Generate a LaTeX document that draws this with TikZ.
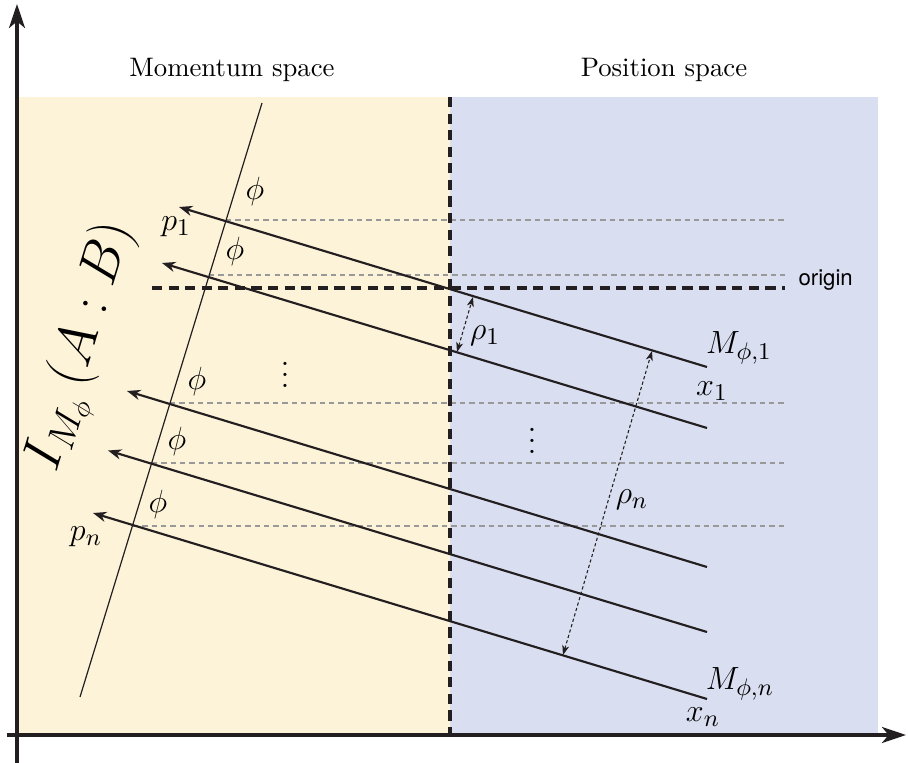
\documentclass[tikz,border=0pt]{standalone}
\usepackage{fontspec}
\newfontfamily\heros{TeX Gyre Heros}
\usetikzlibrary{arrows.meta}
\definecolor{momcol}{RGB}{253,243,217}
\definecolor{poscol}{RGB}{217,222,241}
\definecolor{ink}{RGB}{35,31,32}
\begin{document}
\begin{tikzpicture}[x=0.374pt,y=-0.374pt,
  axis/.style={line width=1.2pt,draw=ink,-{Stealth[length=9pt,width=6pt,inset=2.5pt]}},
  ray/.style={line width=0.8pt,draw=ink,-{Stealth[length=5pt,width=3.8pt,inset=1.6pt]}},
  guide/.style={draw=gray!80,line width=0.4pt,dash pattern=on 2pt off 1.5pt},
  bigdash/.style={draw=ink,line width=1.2pt,dash pattern=on 3.8pt off 2.4pt},
  dist/.style={draw=ink,line width=0.4pt,dash pattern=on 1.2pt off 0.9pt,{Stealth[length=3.6pt,width=2.6pt,inset=1pt]}-{Stealth[length=3.6pt,width=2.6pt,inset=1pt]}},
  lab/.style={inner sep=0pt,font=\fontsize{12.3}{14}\selectfont},
  txt/.style={inner sep=0pt,font=\fontsize{10}{12}\selectfont}]
\useasboundingbox (0,0) rectangle (908,763);
% regions
\fill[momcol] (18,97) rectangle (450,735);
\fill[poscol] (450,97) rectangle (878,735);
% guide lines
\coordinate (g1a) at (226,220); \coordinate (g1b) at (785,220);
\coordinate (g2a) at (209,275); \coordinate (g2b) at (785,275);
\coordinate (g3a) at (170,403); \coordinate (g3b) at (785,403);
\coordinate (g4a) at (152,463); \coordinate (g4b) at (785,463);
\coordinate (g5a) at (133,526); \coordinate (g5b) at (785,526);
\foreach \i in {1,...,5}{\draw[guide] (g\i a) -- (g\i b);}
% oblique line
\coordinate (oTop) at (262,103); \coordinate (oBot) at (80,697);
\draw[ink,line width=0.45pt] (oBot) -- (oTop);
% dashed axes
\coordinate (vdTop) at (450,97); \coordinate (vdBot) at (450,735);
\draw[bigdash] (vdTop) -- (vdBot);
\coordinate (hdL) at (152,288); \coordinate (hdR) at (785,288);
\draw[bigdash] (hdL) -- (hdR);
\node[inner sep=0pt,anchor=west,font=\heros\fontsize{8.3}{10}\selectfont] (origin) at (798,280) {origin};
% rays
\coordinate (r1) at (707,367); \coordinate (l1) at (179,207);
\coordinate (r2) at (707,428); \coordinate (l2) at (162,263);
\coordinate (r3) at (707,567); \coordinate (l3) at (127,391);
\coordinate (r4) at (707,632); \coordinate (l4) at (108,450.5);
\coordinate (r5) at (707,699); \coordinate (l5) at (93,513);
\foreach \i in {1,...,5}{\draw[ray] (r\i) -- (l\i);}
% distance arrows
\coordinate (d1a) at (473,297); \coordinate (d1b) at (457,352);
\draw[dist] (d1b) -- (d1a);
\coordinate (dna) at (652,351); \coordinate (dnb) at (563,655);
\draw[dist] (dnb) -- (dna);
% axes
\coordinate (yBot) at (17,763); \coordinate (yTop) at (17,4);
\coordinate (xL) at (7,735); \coordinate (xR) at (906,735);
\draw[axis] (yBot) -- (yTop);
\draw[axis] (xL) -- (xR);
% labels
\node[txt] (mom) at (232,70) {Momentum space};
\node[txt] (pos) at (664,70) {Position space};
\node[lab] (ph1) at (255,191) {$\phi$};
\node[lab] (ph2) at (235,251) {$\phi$};
\node[lab] (ph3) at (197,381) {$\phi$};
\node[lab] (ph4) at (177,441) {$\phi$};
\node[lab] (ph5) at (158,504) {$\phi$};
\node[lab] (dots1) at (285,367) {$\vdots$};
\node[lab] (dots2) at (532,433) {$\vdots$};
\node[lab] (p1) at (176,227) {$p_1$};
\node[lab] (pn) at (86,537) {$p_n$};
\node[lab] (M1) at (739,348) {$M_{\phi,1}$};
\node[lab] (x1) at (712,391) {$x_1$};
\node[lab] (Mn) at (740,684) {$M_{\phi,n}$};
\node[lab] (xn) at (703,717) {$x_n$};
\node[lab] (rho1) at (485,336) {$\rho_1$};
\node[lab] (rhon) at (632,500) {$\rho_n$};
\node[inner sep=0pt,rotate=73,font=\fontsize{20}{24}\selectfont] (big) at (83,347) {$I_{M_\phi}\,\bigl(A:B\bigr)$};
\end{tikzpicture}
\end{document}
